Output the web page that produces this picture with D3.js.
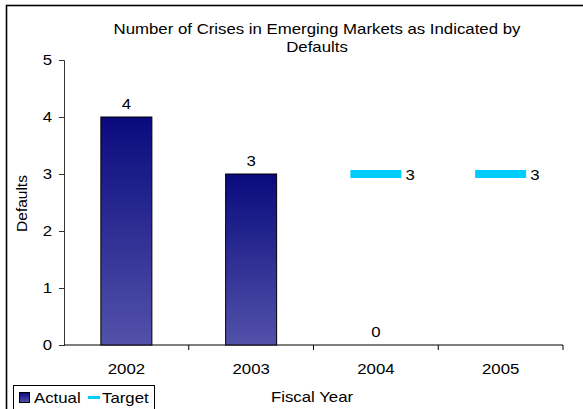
<!DOCTYPE html>
<html>
<head>
<meta charset="utf-8">
<script src="https://cdn.jsdelivr.net/npm/d3@7"></script>
<style>
  html, body { margin: 0; padding: 0; background: #fff; }
  svg { display: block; font-family: "Liberation Sans", Arial, sans-serif; }
</style>
</head>
<body>
<svg id="chart" width="583" height="409"></svg>
<script>
// Fiscal years and the two series
const years = ["2002", "2003", "2004", "2005"];
const actual = [4, 3, 0, null];
const target = [null, null, 3, 3];
const yTicks = [0, 1, 2, 3, 4, 5];

const svg = d3.select("#chart");
const W = 583, H = 409;
const plot = { left: 64, right: 563, top: 60, bottom: 345 };
const FS = 14, SX = 1.2;   // font size and horizontal text stretch

// Write a horizontally stretched label
function label(parent, x, y, txt, anchor) {
  return parent.append("text")
    .attr("transform", `translate(${x},${y}) scale(${SX},1)`)
    .attr("text-anchor", anchor || "start")
    .attr("font-size", FS).attr("fill", "#000")
    .text(txt);
}

// Outer chart frame
svg.append("rect")
  .attr("x", 6.5).attr("y", 5.5)
  .attr("width", W).attr("height", H)
  .attr("fill", "#fff").attr("stroke", "#000").attr("stroke-width", 1.6);

const defs = svg.append("defs");
const grad = defs.append("linearGradient")
  .attr("id", "barFill").attr("x1", 0).attr("y1", 0).attr("x2", 0).attr("y2", 1);
grad.append("stop").attr("offset", "0%").attr("stop-color", "#0a0a7e");
grad.append("stop").attr("offset", "100%").attr("stop-color", "#5252aa");

const x = d3.scaleBand().domain(years).range([plot.left, plot.right]).paddingInner(0).paddingOuter(0);
const y = d3.scaleLinear().domain([0, 5]).range([plot.bottom, plot.top]);
const barW = 51;
const cx = d => x(d) + x.bandwidth() / 2;

// Title
label(svg, 317, 34, "Number of Crises in Emerging Markets as Indicated by", "middle");
label(svg, 317, 52, "Defaults", "middle");

// Y axis
const yAxis = svg.append("g")
  .attr("transform", `translate(${plot.left},0)`)
  .call(d3.axisLeft(y).tickValues(yTicks).tickSize(5).tickFormat(""));
yAxis.select(".domain").attr("stroke", "#333");
yAxis.selectAll(".tick line").attr("stroke", "#333");
yTicks.forEach(t => label(svg, 52, y(t) + 5, d3.format("d")(t), "end"));

// X axis with ticks at category boundaries
const xg = svg.append("g").attr("transform", `translate(0,${plot.bottom})`);
xg.append("line").attr("x1", plot.left).attr("x2", plot.right).attr("stroke", "#000");
const bounds = years.map(d => x(d)).concat([plot.right]);
xg.selectAll("line.tk").data(bounds.slice(1)).join("line").attr("class", "tk")
  .attr("x1", d => d).attr("x2", d => d).attr("y1", 0).attr("y2", 5).attr("stroke", "#000");
years.forEach(d => label(svg, cx(d), plot.bottom + 29, d, "middle"));

// Actual bars
const actualData = years.map((d, i) => ({ year: d, v: actual[i] })).filter(d => d.v !== null);
svg.selectAll("rect.bar").data(actualData.filter(d => d.v > 0)).join("rect").attr("class", "bar")
  .attr("x", d => cx(d.year) - barW / 2)
  .attr("y", d => y(d.v))
  .attr("width", barW).attr("height", d => y(0) - y(d.v))
  .attr("fill", "url(#barFill)").attr("stroke", "#000").attr("stroke-width", 1);
actualData.forEach(d => label(svg, cx(d.year), y(d.v) - 8, d.v, "middle"));

// Target markers
const targetData = years.map((d, i) => ({ year: d, v: target[i] })).filter(d => d.v !== null);
svg.selectAll("rect.tgt").data(targetData).join("rect").attr("class", "tgt")
  .attr("x", d => cx(d.year) - barW / 2)
  .attr("y", d => y(d.v) - 4)
  .attr("width", barW).attr("height", 8)
  .attr("fill", "#00ccff");
targetData.forEach(d => label(svg, cx(d.year) + barW / 2 + 4, y(d.v) + 5.5, d.v, "start"));

// Axis titles
svg.append("text")
  .attr("transform", `translate(27,${(plot.top + plot.bottom) / 2 + 1}) rotate(-90)`)
  .attr("text-anchor", "middle").attr("font-size", 15.5).text("Defaults");
label(svg, 312, 402, "Fiscal Year", "middle");

// Legend
const lg = svg.append("g");
lg.append("rect").attr("x", 13.5).attr("y", 385.5).attr("width", 141).attr("height", 24)
  .attr("fill", "#fff").attr("stroke", "#000");
lg.append("rect").attr("x", 19.5).attr("y", 392.5).attr("width", 10).attr("height", 10)
  .attr("fill", "url(#barFill)").attr("stroke", "#000");
label(lg, 34, 403, "Actual", "start");
lg.append("rect").attr("x", 88).attr("y", 396).attr("width", 12).attr("height", 3).attr("fill", "#00ccff");
label(lg, 102, 403, "Target", "start");
</script>
</body>
</html>
